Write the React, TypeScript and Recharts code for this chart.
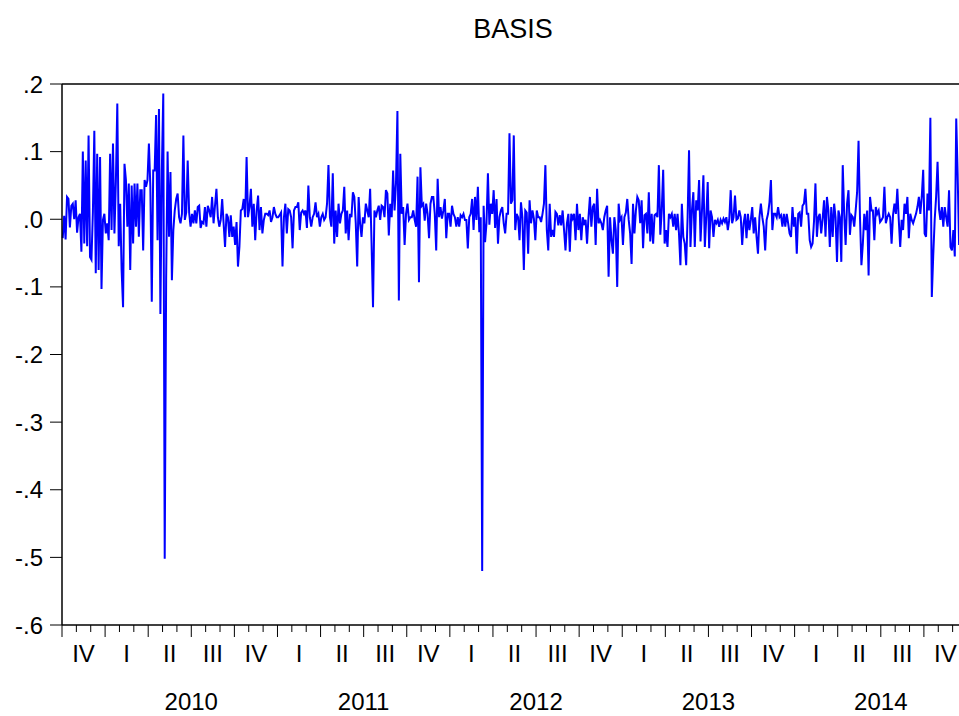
import { LineChart, Line, XAxis, YAxis, ReferenceLine } from 'recharts'

// one array per quarter, 30 samples each (last quarter is partial)
const q2009_4 = [-0.028, 0.005, -0.03, 0.033, 0.03, -0.012, 0.02, 0.023, 0.0, 0.028, -0.02, 0.003, 0.008, -0.048, 0.1, -0.036, 0.087, -0.04, 0.124, -0.056, -0.06, 0.01, 0.131, -0.08, 0.097, -0.075, 0.092, -0.103, -0.001, 0.008]
const q2010_1 = [-0.021, -0.006, -0.031, 0.097, -0.016, 0.112, -0.021, 0.055, 0.171, -0.04, 0.023, -0.075, -0.13, 0.082, 0.058, -0.011, 0.053, -0.075, 0.05, -0.036, 0.053, -0.011, 0.053, -0.026, 0.043, 0.043, -0.046, 0.058, 0.048, 0.058]
const q2010_2 = [0.112, 0.048, -0.122, 0.072, 0.072, 0.154, -0.031, 0.163, -0.14, 0.072, 0.186, -0.502, -0.088, 0.1, -0.026, 0.07, -0.09, -0.016, 0.013, 0.03, 0.038, 0.003, -0.006, 0.008, 0.124, -0.001, 0.01, 0.087, 0.01, -0.011]
const q2010_3 = [0.008, -0.006, 0.013, -0.006, 0.018, 0.02, -0.013, -0.004, -0.006, 0.018, -0.011, 0.02, 0.013, 0.003, 0.033, -0.006, 0.02, 0.045, 0.003, -0.011, -0.001, 0.03, -0.006, -0.041, 0.008, 0.003, -0.026, 0.006, -0.026, -0.011]
const q2010_4 = [-0.038, -0.004, -0.07, -0.041, 0.013, 0.015, 0.03, 0.003, 0.092, 0.003, 0.018, 0.045, -0.011, 0.023, -0.031, 0.013, 0.035, -0.016, 0.018, -0.021, -0.001, 0.008, 0.008, 0.006, 0.013, -0.004, 0.003, 0.018, 0.008, 0.003]
const q2011_1 = [0.003, 0.006, 0.01, -0.07, 0.003, 0.023, -0.021, 0.015, 0.013, 0.003, -0.043, 0.013, 0.018, 0.018, 0.025, -0.016, 0.01, 0.013, 0.008, 0.013, -0.013, 0.05, 0.003, -0.011, 0.003, 0.008, 0.025, 0.003, 0.008, -0.011]
const q2011_2 = [0.003, 0.008, -0.001, 0.003, 0.023, 0.08, 0.003, -0.011, 0.068, -0.036, 0.013, -0.026, 0.023, -0.006, 0.008, 0.013, 0.048, -0.021, 0.013, -0.031, 0.008, 0.003, 0.04, 0.033, -0.006, -0.07, 0.033, -0.006, -0.026, 0.003]
const q2011_3 = [-0.006, 0.023, 0.013, 0.003, 0.045, -0.036, -0.13, 0.013, 0.003, 0.013, 0.02, -0.001, 0.02, 0.018, 0.003, 0.043, 0.038, -0.024, 0.023, 0.003, 0.072, 0.013, 0.053, 0.16, -0.12, 0.097, 0.008, 0.018, -0.038, 0.008]
const q2011_4 = [0.023, -0.001, 0.003, 0.003, 0.013, -0.001, -0.011, 0.063, -0.093, 0.077, 0.02, 0.023, -0.002, 0.023, 0.008, -0.028, 0.023, 0.033, 0.033, 0.008, -0.046, 0.06, 0.003, 0.018, 0.001, 0.013, 0.03, -0.028, 0.008, 0.008]
const q2012_1 = [-0.011, 0.02, 0.008, 0.003, -0.011, 0.003, -0.011, 0.006, 0.003, 0.008, -0.001, -0.001, -0.043, 0.003, 0.008, 0.03, -0.016, 0.033, -0.001, 0.048, -0.019, 0.003, -0.52, 0.02, -0.034, -0.006, 0.068, -0.008, 0.023, 0.008]
const q2012_2 = [0.043, -0.013, 0.03, -0.036, 0.003, 0.013, 0.018, -0.006, -0.021, 0.008, 0.008, 0.127, 0.023, 0.028, 0.124, -0.016, 0.008, 0.003, -0.031, 0.025, 0.003, -0.075, 0.013, 0.01, -0.051, 0.028, -0.006, 0.013, 0.001, -0.031]
const q2012_3 = [0.013, 0.003, 0.003, -0.004, 0.008, 0.023, 0.08, -0.016, -0.046, 0.023, -0.026, -0.016, -0.026, 0.011, 0.008, -0.009, 0.006, -0.009, 0.013, -0.016, -0.046, -0.006, 0.008, -0.048, 0.008, 0.001, 0.008, -0.031, 0.023, -0.016]
const q2012_4 = [0.008, -0.031, 0.003, -0.006, -0.001, -0.036, 0.003, 0.033, -0.011, 0.018, 0.023, -0.038, 0.045, -0.006, -0.001, -0.006, -0.016, 0.003, 0.013, 0.02, -0.085, 0.003, -0.031, -0.051, 0.003, -0.016, -0.1, 0.023, -0.001, 0.003]
const q2013_1 = [-0.038, 0.003, 0.01, 0.03, -0.001, -0.021, -0.066, 0.023, -0.021, 0.013, 0.033, 0.028, -0.006, 0.028, -0.043, 0.006, 0.008, -0.021, 0.04, -0.033, 0.008, -0.036, 0.006, 0.008, 0.003, 0.08, -0.023, 0.013, 0.073, -0.036]
const q2013_2 = [-0.016, -0.041, 0.008, 0.003, 0.008, -0.011, 0.008, -0.016, 0.008, -0.021, -0.068, 0.023, -0.026, -0.036, -0.068, 0.003, 0.102, -0.041, 0.013, 0.04, -0.041, 0.028, 0.013, 0.058, -0.033, 0.013, 0.065, -0.041, 0.003, 0.055]
const q2013_3 = [-0.043, 0.013, 0.003, -0.026, -0.001, -0.006, -0.001, -0.011, -0.001, -0.006, 0.001, -0.004, 0.003, -0.016, -0.001, 0.043, -0.006, 0.003, 0.035, -0.001, 0.001, 0.013, 0.003, -0.038, -0.006, 0.008, -0.028, 0.008, -0.016, -0.001]
const q2013_4 = [0.018, -0.021, 0.003, -0.026, -0.051, 0.003, 0.023, 0.003, -0.011, -0.046, -0.001, 0.008, 0.025, 0.058, -0.016, 0.008, 0.008, 0.003, 0.018, 0.003, 0.006, -0.011, 0.008, -0.011, 0.008, -0.006, -0.021, -0.026, 0.018, -0.011]
const q2014_1 = [0.003, -0.051, 0.008, 0.01, -0.011, 0.02, 0.023, 0.045, 0.008, 0.008, -0.031, -0.041, -0.036, -0.003, 0.053, -0.026, 0.003, 0.008, -0.021, 0.001, 0.028, -0.026, 0.033, 0.013, -0.041, 0.018, -0.026, 0.023, 0.003, -0.063]
const q2014_2 = [0.013, 0.003, -0.063, 0.08, 0.008, -0.038, 0.023, 0.043, -0.023, 0.006, 0.003, -0.011, 0.013, 0.04, 0.116, 0.003, -0.068, -0.036, 0.008, -0.016, 0.013, -0.083, 0.033, 0.013, 0.013, -0.031, 0.018, 0.008, 0.013, -0.004]
const q2014_3 = [-0.001, 0.003, 0.048, -0.006, 0.003, 0.008, 0.003, -0.036, 0.006, 0.023, 0.008, 0.045, -0.001, -0.041, -0.001, -0.016, 0.023, 0.008, 0.033, -0.028, 0.008, -0.001, -0.006, 0.001, 0.008, 0.018, 0.033, 0.008, 0.033, 0.073]
const q2014_4 = [-0.021, -0.026, 0.038, 0.013, 0.15, -0.115, -0.053, -0.001, 0.033, 0.085, 0.015, -0.001, 0.018, -0.011, 0.018, 0.003, -0.011, 0.043, -0.041, -0.046, -0.016, -0.055, 0.149, 0.065, -0.038]

const quarterLabels = ['IV', 'I', 'II', 'III', 'IV', 'I', 'II', 'III', 'IV', 'I', 'II', 'III', 'IV', 'I', 'II', 'III', 'IV', 'I', 'II', 'III', 'IV']
const yearLabels = ['2010', '2011', '2012', '2013', '2014']
const yTicks = [-0.6, -0.5, -0.4, -0.3, -0.2, -0.1, 0, 0.1, 0.2]

const quarters = [
  q2009_4, q2010_1, q2010_2, q2010_3, q2010_4,
  q2011_1, q2011_2, q2011_3, q2011_4,
  q2012_1, q2012_2, q2012_3, q2012_4,
  q2013_1, q2013_2, q2013_3, q2013_4,
  q2014_1, q2014_2, q2014_3, q2014_4,
]

// x is months since Oct 2009, samples every 0.1 month
const data = quarters.flat().map((v, k) => ({ m: 0.05 + k * 0.1, v }))

const MONTHS = 63
const xTicks = Array.from({ length: MONTHS * 2 + 1 }, (_, i) => i / 2)

const FONT = "'Liberation Sans', Arial, sans-serif"

const QuarterTick = (props: any) => {
  const { x, y, payload } = props
  const m = payload.value
  if (Number.isInteger(m)) {
    const year = m >= 9 && (m - 9) % 12 === 0 ? yearLabels[(m - 9) / 12] : null
    return (
      <g>
        <line x1={x} x2={x} y1={y} y2={y + (m % 3 === 0 ? 12 : 7)} stroke="#000" />
        {year && (
          <text x={x} y={y + 85} textAnchor="middle" fontSize={24} fill="#000">
            {year}
          </text>
        )}
      </g>
    )
  }
  if ((m - 1.5) % 3 === 0) {
    const label = quarterLabels[(m - 1.5) / 3]
    return (
      <text x={x} y={y + 37} textAnchor="middle" fontSize={24} fill="#000">
        {label}
      </text>
    )
  }
  return <g />
}

const fmtY = (v: number) => v.toFixed(1).replace('0.', '.')

export default function App() {
  return (
    <div
      style={{
        position: 'absolute',
        left: 8,
        top: 8,
        width: 951,
        height: 708,
        overflow: 'hidden',
        fontFamily: FONT,
      }}
    >
      <svg width={200} height={60} style={{ position: 'absolute', left: 405, top: -8 }}>
        <text x={100} y={38} textAnchor="middle" fontSize={27} fill="#000" fontFamily={FONT}>
          BASIS
        </text>
      </svg>
      <LineChart
        width={980}
        height={708}
        data={data}
        margin={{ top: 76, right: 21, left: 0, bottom: 0 }}
        style={{ fontFamily: FONT }}
      >
        <XAxis
          dataKey="m"
          type="number"
          domain={[0, MONTHS]}
          ticks={xTicks}
          interval={0}
          tickLine={false}
          tickSize={0}
          tickMargin={0}
          height={91}
          axisLine={{ stroke: '#000', strokeWidth: 1.5 }}
          tick={<QuarterTick />}
        />
        <YAxis
          type="number"
          domain={[-0.6, 0.2]}
          ticks={yTicks}
          interval={0}
          width={54}
          tickSize={12}
          tickMargin={7}
          tickFormatter={fmtY}
          tick={{ fill: '#000', fontSize: 24 }}
          tickLine={{ stroke: '#000' }}
          axisLine={{ stroke: '#000', strokeWidth: 1.5 }}
        />
        <ReferenceLine y={0.2} stroke="#000" strokeWidth={1.5} />
        <Line
          dataKey="v"
          stroke="#0000ff"
          strokeWidth={2}
          dot={false}
          isAnimationActive={false}
        />
      </LineChart>
    </div>
  )
}
